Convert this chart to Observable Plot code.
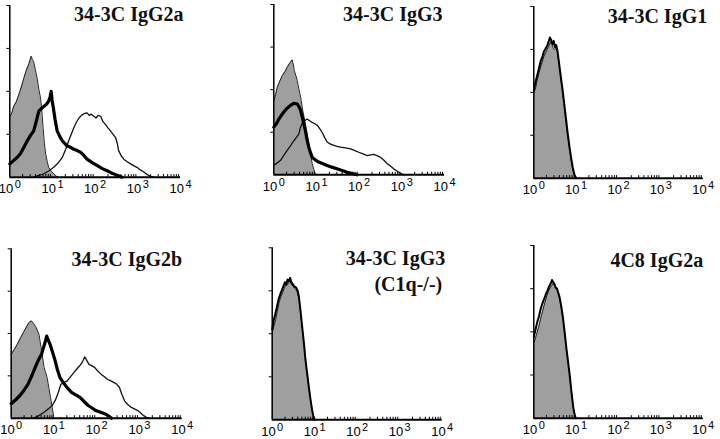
<!DOCTYPE html>
<html><head><meta charset="utf-8">
<script src="https://cdn.jsdelivr.net/npm/d3@7"></script>
<script src="https://cdn.jsdelivr.net/npm/@observablehq/plot@0.6"></script>
<style>
body{margin:0;background:#fff;}
#wrap{position:relative;width:720px;height:439px;overflow:hidden;background:#fff}
#wrap svg{position:absolute;overflow:visible;background:transparent}
</style></head><body><div id="wrap"></div>
<script>
// Panel titles
const titles = ["34-3C IgG2a", "34-3C IgG3", "34-3C IgG1", "34-3C IgG2b", "34-3C IgG3", "4C8 IgG2a"];
const subtitle5 = "(C1q-/-)";
// x axis: fluorescence, log decades
const decadeTicks = [1, 10, 100, 1000, 10000];
const decadeLabels = ["10^0", "10^1", "10^2", "10^3", "10^4"];
const minorTicks = [2,3,4,5,6,7,8,9,20,30,40,50,60,70,80,90,200,300,400,500,600,700,800,900,2000,3000,4000,5000,6000,7000,8000,9000];
const yTicks = [1, 2, 3, 4];

// Histograms: [log10 fluorescence, relative count]
const p1Gray = [[0,1.42],[0.05,1.5],[0.09,1.65],[0.15,1.75],[0.21,1.92],[0.27,2.1],[0.33,2.31],[0.39,2.5],[0.45,2.65],[0.5,2.82],[0.53,2.74],[0.56,2.69],[0.6,2.5],[0.64,2.31],[0.68,2.05],[0.72,1.85],[0.75,1.55],[0.78,1.15],[0.81,0.8],[0.84,0.54],[0.88,0.35],[0.91,0.23],[0.97,0.14],[1.03,0.08],[1.08,0.03],[1.13,0]];
const p1Thick = [[0,0.31],[0.08,0.38],[0.17,0.46],[0.25,0.55],[0.33,0.7],[0.41,0.85],[0.49,0.98],[0.56,1.08],[0.62,1.3],[0.68,1.54],[0.74,1.6],[0.8,1.65],[0.86,1.7],[0.91,1.77],[0.94,1.85],[0.97,2.0],[0.99,1.8],[1.02,1.62],[1.06,1.35],[1.11,1.08],[1.17,0.95],[1.23,0.85],[1.34,0.73],[1.42,0.7],[1.5,0.65],[1.58,0.62],[1.66,0.58],[1.74,0.5],[1.81,0.42],[1.93,0.34],[2.05,0.27],[2.17,0.2],[2.28,0.15],[2.38,0.1],[2.48,0.06],[2.56,0.03],[2.63,0]];
const p1Thin = [[0.56,0],[0.68,0.04],[0.8,0.08],[0.92,0.15],[1.03,0.23],[1.13,0.33],[1.23,0.46],[1.31,0.65],[1.38,0.85],[1.44,1.0],[1.5,1.15],[1.56,1.28],[1.62,1.38],[1.68,1.44],[1.74,1.48],[1.81,1.5],[1.86,1.44],[1.9,1.47],[1.97,1.42],[2.02,1.38],[2.07,1.44],[2.13,1.42],[2.18,1.3],[2.24,1.23],[2.3,1.15],[2.36,1.08],[2.42,1.0],[2.48,0.92],[2.52,0.78],[2.55,0.62],[2.61,0.5],[2.67,0.42],[2.75,0.36],[2.83,0.31],[2.9,0.27],[2.98,0.23],[3.06,0.17],[3.14,0.12],[3.22,0.06],[3.3,0.02],[3.38,0]];

const p2Gray = [[0,1.74],[0.04,1.88],[0.08,2.05],[0.14,2.2],[0.2,2.33],[0.26,2.42],[0.31,2.52],[0.36,2.6],[0.39,2.64],[0.43,2.7],[0.46,2.58],[0.48,2.45],[0.52,2.32],[0.55,2.21],[0.59,2.0],[0.63,1.82],[0.68,1.5],[0.74,1.2],[0.78,0.95],[0.82,0.73],[0.86,0.5],[0.9,0.26],[0.94,0.12],[0.98,0]];
const p2Thick = [[0,1.12],[0.06,1.2],[0.12,1.31],[0.18,1.4],[0.23,1.47],[0.3,1.55],[0.39,1.63],[0.47,1.68],[0.55,1.66],[0.59,1.6],[0.63,1.51],[0.68,1.3],[0.74,1.04],[0.78,0.82],[0.82,0.65],[0.86,0.52],[0.9,0.41],[0.97,0.35],[1.05,0.3],[1.15,0.26],[1.25,0.22],[1.36,0.18],[1.48,0.14],[1.6,0.1],[1.72,0.06],[1.84,0.03],[1.95,0]];
const p2Thin = [[0,0.22],[0.08,0.28],[0.16,0.34],[0.23,0.45],[0.31,0.57],[0.39,0.68],[0.47,0.8],[0.53,0.88],[0.59,0.96],[0.62,1.1],[0.66,1.2],[0.72,1.27],[0.78,1.31],[0.84,1.27],[0.9,1.23],[0.96,1.2],[1.02,1.16],[1.08,1.08],[1.13,1.0],[1.19,0.88],[1.25,0.77],[1.33,0.72],[1.41,0.69],[1.48,0.67],[1.56,0.65],[1.68,0.63],[1.8,0.61],[1.9,0.57],[1.99,0.53],[2.09,0.49],[2.19,0.45],[2.27,0.47],[2.34,0.48],[2.42,0.45],[2.5,0.41],[2.58,0.34],[2.66,0.26],[2.74,0.2],[2.81,0.14],[2.87,0.1],[2.93,0.06],[3.0,0.02],[3.05,0]];

const p3Gray = [[0,1.98],[0.04,2.09],[0.08,2.28],[0.12,2.45],[0.18,2.65],[0.24,2.84],[0.28,2.92],[0.31,2.99],[0.36,3.1],[0.41,3.19],[0.45,3.05],[0.49,2.99],[0.52,3.02],[0.55,2.99],[0.59,2.7],[0.63,2.37],[0.67,2.05],[0.71,1.74],[0.75,1.4],[0.79,1.04],[0.83,0.75],[0.87,0.49],[0.9,0.3],[0.94,0.1],[0.98,0.03],[1.01,0]];
const p3Thick = [[0,2.05],[0.03,2.2],[0.07,2.35],[0.12,2.55],[0.16,2.72],[0.2,2.82],[0.24,2.95],[0.28,3.02],[0.32,3.1],[0.35,3.18],[0.38,3.28],[0.41,3.22],[0.44,3.12],[0.47,3.2],[0.5,3.05],[0.53,3.1],[0.56,2.96],[0.6,2.65],[0.64,2.35],[0.68,2.05],[0.72,1.72],[0.76,1.38],[0.8,1.05],[0.84,0.75],[0.88,0.48],[0.92,0.25],[0.96,0.08],[1.0,0]];

const p4Gray = [[0,1.51],[0.07,1.62],[0.14,1.74],[0.22,1.9],[0.3,2.05],[0.36,2.16],[0.41,2.25],[0.47,2.3],[0.52,2.24],[0.57,2.17],[0.61,2.08],[0.65,1.98],[0.7,1.66],[0.74,1.4],[0.77,1.2],[0.8,1.1],[0.84,0.96],[0.88,0.72],[0.92,0.49],[0.96,0.25],[1.0,0]];
const p4Thick = [[0,0.34],[0.1,0.43],[0.2,0.53],[0.3,0.66],[0.39,0.8],[0.49,1.02],[0.59,1.27],[0.65,1.4],[0.71,1.51],[0.75,1.65],[0.79,1.78],[0.83,1.94],[0.87,1.84],[0.91,1.74],[0.97,1.55],[1.03,1.35],[1.08,1.15],[1.14,0.96],[1.22,0.84],[1.3,0.73],[1.41,0.61],[1.51,0.55],[1.61,0.49],[1.7,0.4],[1.8,0.3],[1.89,0.24],[1.98,0.18],[2.09,0.14],[2.2,0.1],[2.28,0.05],[2.35,0]];
const p4Thin = [[0.53,0],[0.65,0.06],[0.77,0.14],[0.87,0.22],[0.96,0.3],[1.03,0.42],[1.1,0.6],[1.16,0.8],[1.23,0.84],[1.31,0.88],[1.39,0.98],[1.47,1.08],[1.55,1.18],[1.63,1.27],[1.68,1.36],[1.72,1.45],[1.77,1.36],[1.82,1.27],[1.88,1.24],[1.95,1.2],[2.02,1.12],[2.1,1.04],[2.18,0.98],[2.25,0.92],[2.33,0.88],[2.41,0.84],[2.47,0.8],[2.53,0.73],[2.59,0.56],[2.65,0.41],[2.72,0.33],[2.8,0.26],[2.88,0.22],[2.96,0.18],[3.03,0.12],[3.1,0.06],[3.16,0.02],[3.22,0]];

const p5Gray = [[0,2.02],[0.04,2.18],[0.08,2.33],[0.12,2.52],[0.16,2.72],[0.2,2.85],[0.24,2.95],[0.28,3.05],[0.31,3.11],[0.36,3.15],[0.39,3.2],[0.42,3.23],[0.45,3.15],[0.49,3.11],[0.53,3.05],[0.57,3.02],[0.6,2.92],[0.63,2.8],[0.67,2.45],[0.71,2.09],[0.75,1.72],[0.78,1.39],[0.82,1.08],[0.86,0.77],[0.9,0.48],[0.94,0.22],[0.97,0.08],[1.0,0]];
const p5Thick = [[0,2.1],[0.03,2.3],[0.07,2.45],[0.11,2.62],[0.15,2.8],[0.19,2.92],[0.23,3.02],[0.27,3.12],[0.3,3.2],[0.33,3.14],[0.36,3.26],[0.39,3.22],[0.42,3.3],[0.45,3.2],[0.48,3.16],[0.52,3.1],[0.56,3.08],[0.6,3.0],[0.63,2.85],[0.67,2.5],[0.71,2.12],[0.75,1.75],[0.78,1.42],[0.82,1.1],[0.86,0.78],[0.9,0.48],[0.94,0.22],[0.97,0.08],[1.0,0]];

const p6Gray = [[0,1.74],[0.06,1.92],[0.12,2.13],[0.18,2.38],[0.24,2.6],[0.28,2.74],[0.31,2.84],[0.35,2.95],[0.39,3.03],[0.43,3.08],[0.46,3.13],[0.5,3.05],[0.54,2.99],[0.58,2.88],[0.61,2.76],[0.65,2.55],[0.69,2.29],[0.73,1.95],[0.77,1.59],[0.81,1.28],[0.85,0.96],[0.89,0.6],[0.93,0.26],[0.96,0.1],[0.98,0]];
const p6Thick = [[0,1.88],[0.04,2.05],[0.08,2.22],[0.12,2.35],[0.16,2.52],[0.2,2.65],[0.24,2.75],[0.28,2.86],[0.32,2.95],[0.36,3.05],[0.4,3.12],[0.43,3.2],[0.46,3.15],[0.49,3.1],[0.52,3.02],[0.55,3.0],[0.58,2.9],[0.61,2.8],[0.65,2.58],[0.69,2.32],[0.73,1.98],[0.77,1.62],[0.81,1.3],[0.85,0.98],[0.89,0.6],[0.93,0.26],[0.96,0.1],[0.99,0]];

const panels = [
  {left:0,   top:0,   h:220, ml:9.3,  mr:60,   mt:5,    mb:43.3, title:titles[0], tdx:3,  tdy:15.7, gray:p1Gray, thick:p1Thick, thin:p1Thin},
  {left:240, top:0,   h:220, ml:33.3, mr:36,   mt:4,    mb:45.7, title:titles[1], tdx:-2, tdy:16.5, gray:p2Gray, thick:p2Thick, thin:p2Thin},
  {left:480, top:0,   h:220, ml:53.3, mr:17.3, mt:6,    mb:42.3, title:titles[2], tdx:4,  tdy:16.5, gray:p3Gray, thick:p3Thick},
  {left:0,   top:220, h:219, ml:10.7, mr:58.3, mt:28.3, mb:21.3, title:titles[3], tdx:0,  tdy:16.7, gray:p4Gray, thick:p4Thick, thin:p4Thin},
  {left:240, top:220, h:219, ml:31.7, mr:38.3, mt:27.3, mb:19.7, title:titles[4], tdx:3,  tdy:16.7, sub:subtitle5, gray:p5Gray, thick:p5Thick},
  {left:480, top:220, h:219, ml:53.3, mr:17.3, mt:25,   mb:21.3, title:titles[5], tdx:0,  tdy:21.7, gray:p6Gray, thick:p6Thick}
];

const GRAY = "#9f9f9f";
const X = d => 10 ** d[0];
const Y = d => d[1];
const titleStyle = {fontSize: 20, fontWeight: "bold", fontFamily: "Liberation Serif, Times New Roman, serif", fill: "#111", textAnchor: "end", lineAnchor: "bottom", frameAnchor: "top-right"};

const wrap = document.getElementById("wrap");
for (const p of panels) {
  const marks = [
    Plot.areaY(p.gray, {x: X, y: Y, fill: GRAY}),
    Plot.lineY(p.gray, {x: X, y: Y, stroke: "#222", strokeWidth: 1})
  ];
  if (p.thin) marks.push(Plot.lineY(p.thin, {x: X, y: Y, stroke: "#111", strokeWidth: 1.3}));
  if (p.thick) marks.push(Plot.lineY(p.thick, {x: X, y: Y, stroke: "#000", strokeWidth: p.thin ? 3.2 : 2}));
  marks.push(
    Plot.ruleX(minorTicks, {x: d => d, y1: 0, y2: 0.06, stroke: "#000", strokeWidth: 1}),
    Plot.ruleY([0], {x1: 1, x2: 10000, stroke: "#000", strokeWidth: 2}),
    Plot.ruleX([1], {y1: 0, y2: 4, stroke: "#000", strokeWidth: 1.5}),
    Plot.axisY({ticks: yTicks, tickSize: 3, tickFormat: () => "", label: null, stroke: "#000"}),
    Plot.axisX({ticks: decadeTicks, tickSize: 0, tickPadding: 7, label: null,
      tickFormat: d => decadeLabels[decadeTicks.indexOf(d)],
      fontSize: 13, fontFamily: "Liberation Sans, Arial, sans-serif", fill: "#000"}),
    Plot.text([p.title], {...titleStyle, text: d => d, dx: p.tdx, dy: p.tdy})
  );
  if (p.sub) marks.push(Plot.text([p.sub], {...titleStyle, text: d => d, dx: p.tdx - 3, dy: p.tdy + 26}));
  const svg = Plot.plot({
    width: 240, height: p.h,
    marginLeft: p.ml, marginRight: p.mr, marginTop: p.mt, marginBottom: p.mb,
    x: {type: "log", domain: [1, 10000], axis: null},
    y: {domain: [0, 4], axis: null},
    style: {background: "transparent", overflow: "visible"},
    marks
  });
  svg.style.left = p.left + "px";
  svg.style.top = p.top + "px";
  // render "10^k" tick labels with real superscripts
  svg.querySelectorAll("text").forEach(t => {
    const s = t.textContent;
    if (/^10\^\d$/.test(s)) {
      const [base, exp] = s.split("^");
      t.textContent = "";
      const a = document.createElementNS("http://www.w3.org/2000/svg", "tspan");
      a.textContent = base;
      const b = document.createElementNS("http://www.w3.org/2000/svg", "tspan");
      b.textContent = exp;
      b.setAttribute("font-size", "11");
      b.setAttribute("dy", "-5");
      b.setAttribute("dx", "1.5");
      t.appendChild(a); t.appendChild(b);
    }
  });
  wrap.appendChild(svg);
}
</script></body></html>
